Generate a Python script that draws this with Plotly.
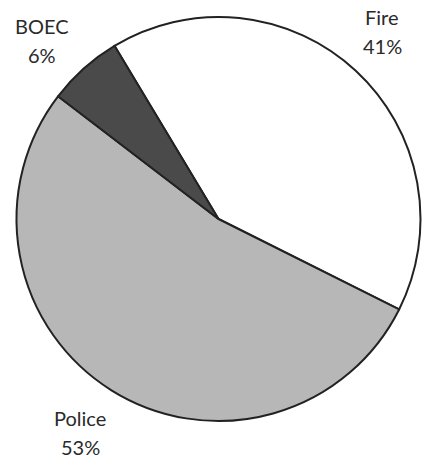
import plotly.graph_objects as go

# Budget shares by bureau
labels = ["Fire", "Police", "BOEC"]
shares = [41, 53, 6]
colors = ["#ffffff", "#b7b7b7", "#4a4a4a"]

# Label anchor points (pixel centres of the name line) for each bureau
label_px = {"Fire": (382, 17), "Police": (80, 418), "BOEC": (42, 26)}

W, H = 422, 458

fig = go.Figure(
    go.Pie(
        labels=labels,
        values=shares,
        sort=False,
        direction="clockwise",
        rotation=-31,
        marker=dict(colors=colors, line=dict(color="#222222", width=2)),
        textinfo="none",
        hoverinfo="label+percent",
        showlegend=False,
        domain=dict(x=[16 / W, 421 / W], y=[1 - 421 / H, 1 - 17 / H]),
    )
)

font = dict(family="Lato, 'Liberation Sans', sans-serif", size=20, color="#2a2a2a")
for name, val in zip(labels, shares):
    px, py = label_px[name]
    for i, line in enumerate([name, f"{val}%"]):
        fig.add_annotation(
            x=px / W,
            y=1 - (py + i * 28.5) / H,
            xref="paper",
            yref="paper",
            text=line,
            showarrow=False,
            font=font,
            xanchor="center",
            yanchor="middle",
        )

fig.update_layout(
    width=W,
    height=H,
    margin=dict(l=0, r=0, t=0, b=0),
    paper_bgcolor="white",
    plot_bgcolor="white",
)

fig.write_html("out.html")
